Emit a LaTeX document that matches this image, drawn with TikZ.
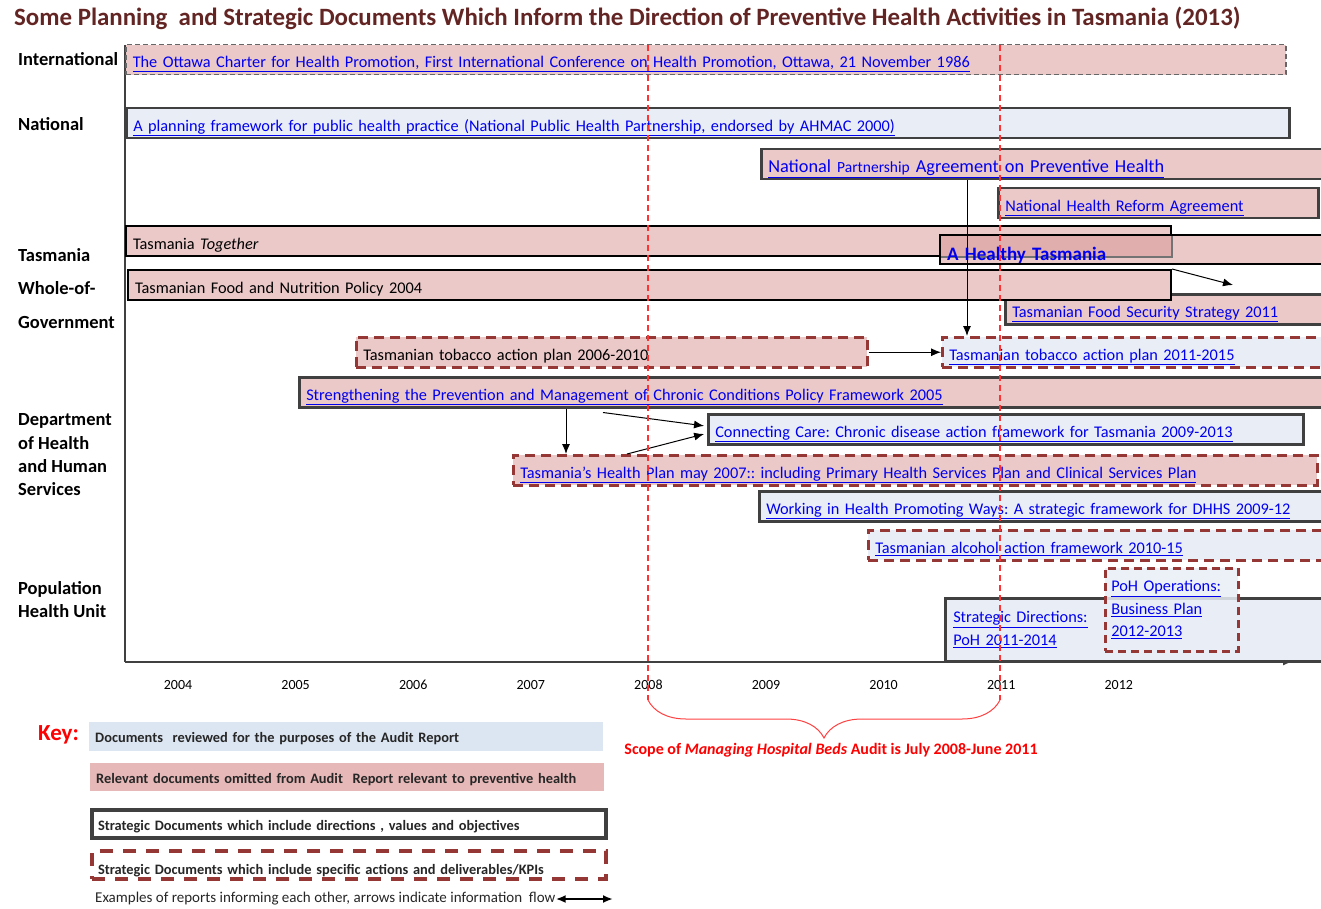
\documentclass[tikz,border=0pt]{standalone}
\usepackage{fontspec}
\setmainfont{Carlito}
\usepackage{xcolor}
\usetikzlibrary{positioning,decorations.pathreplacing,arrows.meta}
\frenchspacing

\definecolor{docpink}{RGB}{235,201,201}
\definecolor{overlappink}{RGB}{224,174,172}
\definecolor{docblue}{RGB}{233,238,246}
\definecolor{keyblue}{RGB}{220,230,242}
\definecolor{keypink}{RGB}{230,185,184}
\definecolor{stratgray}{RGB}{64,64,64}
\definecolor{actred}{RGB}{149,55,53}
\definecolor{linkblue}{RGB}{0,0,238}
\definecolor{titlered}{RGB}{99,37,35}

\newcommand{\doclink}[1]{\textcolor{linkblue}{\underline{#1}}}
\newcommand{\barfont}{\fontsize{16.3}{18}\selectfont}

\tikzset{
  docbar/.style={rectangle, anchor=north west, inner xsep=7pt, inner ysep=0pt, text height=23pt, text depth=7pt, align=left, font=\barfont, text width=#1-14pt},
  docblock/.style={rectangle, anchor=north west, inner ysep=0pt, align=left, font=\fontsize{16.3}{23}\selectfont},
  pinkdoc/.style={fill=docpink},
  bluedoc/.style={fill=docblue},
  stratline/.style={draw=stratgray, line width=2.5pt},
  blackline/.style={draw=black, line width=2pt},
  actline/.style={draw=actred, line width=2.5pt, dash pattern=on 10pt off 6pt},
  flow/.style={-{Latex[length=10pt, width=8pt]}, line width=1pt, black},
  sector/.style={anchor=west, inner sep=0pt, align=left, font=\fontsize{18.5}{23.3}\selectfont\bfseries},
  yearlbl/.style={font=\fontsize{14}{16}\selectfont},
  keybox/.style={rectangle, anchor=north west, inner xsep=6pt, inner ysep=0pt, text height=20pt, text depth=8pt, text width=502pt, align=left, font=\fontsize{14.4}{16}\selectfont\bfseries, text=black!85},
  scopeline/.style={red!80!white, line width=1.2pt, dash pattern=on 6pt off 4pt},
}

\begin{document}
\begin{tikzpicture}[x=1pt, y=-1pt]
\useasboundingbox (0,0) rectangle (1321,909);
\clip (0,0) rectangle (1321,909);

%%% title
\node[anchor=west, inner sep=0pt, font=\fontsize{24.9}{28}\selectfont\bfseries, text=titlered] (title) at (14,18) {Some Planning~ and Strategic Documents Which Inform the Direction of Preventive Health Activities in Tasmania (2013)};

%%% sector labels
\node[sector] (intl) at (18,59) {International};
\node[sector] (natl) at (18,124) {National};
\node[sector, font=\fontsize{18.5}{33.5}\selectfont\bfseries] (tasgov) at (18,288.5) {Tasmania\\Whole-of-\\Government};
\node[sector] (dhhs) at (18,455) {Department\\of Health\\and Human\\Services};
\node[sector] (phu) at (18,599.5) {Population\\Health Unit};

%%% axes
\draw[stratgray, line width=1.5pt] (125,45) -- (125,662);
\draw[stratgray, line width=1.5pt, -{Latex[length=9pt, width=7pt]}] (125,662) -- (1292,662);
\foreach \yr [count=\i from 0] in {2004,...,2012}
  \node[yearlbl] (yr\yr) at (178+117.6*\i,685) {\yr};

%%% international and national
\node[docbar=1160pt, pinkdoc, draw=gray!80!black, line width=1.5pt, dash pattern=on 5pt off 3pt] (ottawa) at (125,44) {\doclink{The Ottawa Charter for Health Promotion, First International Conference on Health Promotion, Ottawa, 21 November 1986}};
\node[docbar=1163pt, bluedoc, stratline] (planning) at (125,107) {\doclink{A planning framework for public health practice (National Public Health Partnership, endorsed by AHMAC 2000)}};
\node[docbar=600pt, pinkdoc, stratline, font=\fontsize{18.3}{20}\selectfont] (npa) at (760,148) {\doclink{National {\fontsize{15.5}{17}\selectfont Partnership} Agreement on Preventive Health}};
\node[docbar=320pt, pinkdoc, stratline] (nhra) at (997,187) {\doclink{National Health Reform Agreement}};

%%% whole of government
\node[docbar=1045pt, pinkdoc, blackline] (together) at (125,225) {Tasmania \textit{Together}};
\node[docbar=430pt, pinkdoc, blackline, text height=25pt, text depth=4pt, font=\fontsize{19}{21}\selectfont\bfseries, text=linkblue,
  path picture={\fill[overlappink] (together.south east) rectangle (path picture bounding box.north west);
    \draw[black!55, line width=2pt] (together.north east) -- (together.south east) -- (together.south west);}] (healthy) at (939,234) {A Healthy Tasmania};
\node[docbar=360pt, pinkdoc, stratline] (foodsec) at (1004,293) {\doclink{Tasmanian Food Security Strategy 2011}};
\node[docbar=1043pt, pinkdoc, blackline] (fnp) at (127,269) {Tasmanian Food and Nutrition Policy 2004};
\node[docbar=511pt, pinkdoc, actline] (tobold) at (355,336) {Tasmanian tobacco action plan 2006-2010};
\node[docbar=420pt, bluedoc, actline] (tobnew) at (941,336) {\doclink{Tasmanian tobacco action plan 2011-2015}};

%%% department of health and human services
\node[docbar=1060pt, pinkdoc, stratline] (strength) at (298,376) {\doclink{Strengthening the Prevention and Management of Chronic Conditions Policy Framework 2005}};
\node[docbar=595pt, bluedoc, stratline] (connect) at (707,413) {\doclink{Connecting Care: Chronic disease action framework for Tasmania 2009-2013}};
\node[docbar=804pt, pinkdoc, actline] (healthplan) at (512,454) {\doclink{Tasmania's Health Plan may 2007:: including Primary Health Services Plan and Clinical Services Plan}};
\node[docbar=600pt, bluedoc, stratline] (working) at (758,490) {\doclink{Working in Health Promoting Ways: A strategic framework for DHHS 2009-12}};
\node[docbar=500pt, bluedoc, actline] (alcohol) at (867,529) {\doclink{Tasmanian alcohol action framework 2010-15}};

%%% population health unit
\node[docblock, bluedoc, stratline, minimum height=63pt, inner xsep=8pt, text width=404pt] (stratdir) at (944,597) {\doclink{Strategic Directions:}\\\doclink{PoH 2011-2014}};
\node[docblock, bluedoc, actline, dash pattern=on 8pt off 5pt, fill opacity=0.85, text opacity=1, minimum height=83pt, inner xsep=6pt, text width=121pt, font=\fontsize{16.3}{22.5}\selectfont] (pohops) at (1104,567) {\doclink{PoH Operations:}\\\doclink{Business Plan}\\\doclink{2012-2013}};

%%% connections, arrows
\coordinate (fnpend) at (1233,285);
\draw[flow] (fnp.north east) -- (fnpend);
\draw[flow] ([xshift=207pt]npa.south west) -- ([xshift=207pt]npa.south west |- tobnew.north);
\draw[flow] (tobold.east) -- (tobnew.west);
\draw[flow] ([xshift=268pt]strength.south west) -- ([xshift=268pt]strength.south west |- healthplan.north);
\draw[flow, shorten >=3pt] ([xshift=305pt,yshift=-4pt]strength.south west) -- ([yshift=3pt]connect.west);
\draw[flow, shorten >=3pt] ([xshift=115pt]healthplan.north west) -- ([yshift=-4pt]connect.west);

%%% audit scope
\coordinate (scopefrom) at (648,700);
\coordinate (scopeto) at (1000,700);
\draw[scopeline] (648,45) -- (scopefrom);
\draw[scopeline] (1000,45) -- (scopeto);
\draw[red!75!white, line width=1pt, decorate, decoration={brace, amplitude=38pt}] (scopeto) -- (scopefrom);
\node[font=\fontsize{16}{18}\selectfont\bfseries, text=red] (scope) at (831,750) {Scope of \textit{Managing Hospital Beds} Audit is July 2008-June 2011};

%%% key
\node[anchor=west, inner sep=0pt, font=\fontsize{23}{25}\selectfont\bfseries, text=red] (key) at (38,735) {Key:};
\node[keybox, fill=keyblue, text depth=9pt] (keyreviewed) at (89,722) {Documents~ reviewed for the purposes of the Audit Report};
\node[keybox, fill=keypink] (keyomitted) at (90,763) {Relevant documents omitted from Audit~ Report relevant to preventive health};
\node[keybox, fill=white, draw=stratgray, line width=4pt] (keystrat) at (90,808) {Strategic Documents which include directions , values and objectives};
\node[keybox, draw=actred, line width=4pt, dash pattern=on 13pt off 10pt, text height=23pt, text depth=5pt] (keyaction) at (90,849) {Strategic Documents which include specific actions and deliverables/KPIs};
\node[anchor=west, inner sep=0pt, font=\fontsize{15}{17}\selectfont, text=black!85] (keyflow) at (95,899) {Examples of reports informing each other, arrows indicate information~ flow};
\coordinate (flowend) at (613,899);
\draw[{Latex[length=10pt, width=8pt]}-{Latex[length=10pt, width=8pt]}, line width=2pt] (keyflow.east) -- (flowend);

\end{tikzpicture}
\end{document}
